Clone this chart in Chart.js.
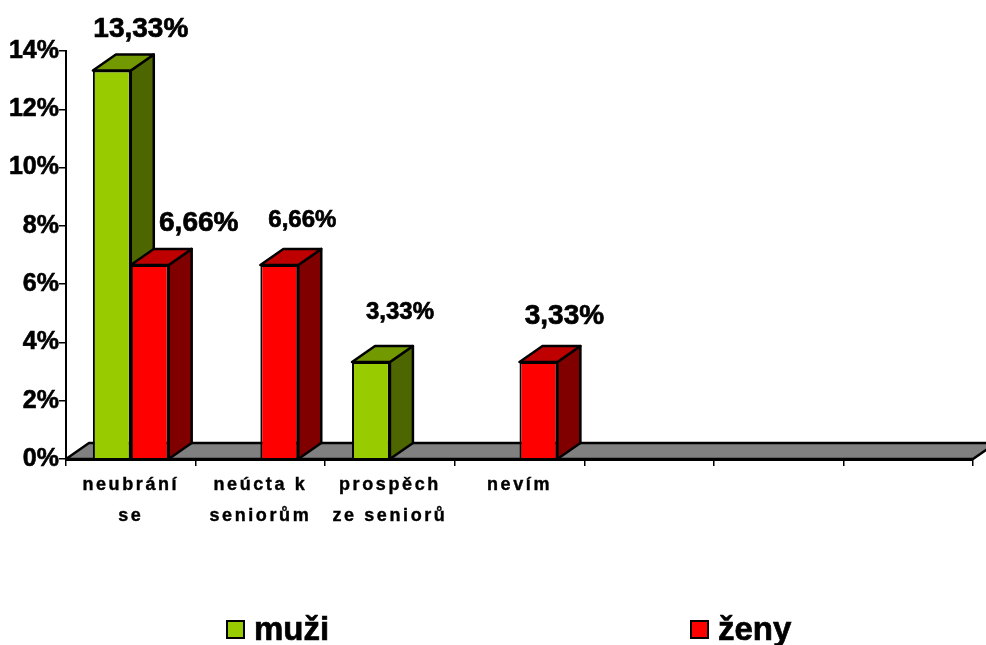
<!DOCTYPE html>
<html>
<head>
<meta charset="utf-8">
<script src="https://cdn.jsdelivr.net/npm/chart.js@4/dist/chart.umd.min.js"></script>
<style>
    html, body { margin: 0; padding: 0; background: #fff; overflow: hidden; }
    canvas { display: block; }
</style>
</head>
<body>
<canvas id="chart" width="986" height="645"></canvas>
<script>
const categories = [["neubrání", "se"], ["neúcta k", "seniorům"], ["prospěch", "ze seniorů"], ["nevím"], "", "", ""];
const muzi = [13.33, null, 3.33, null, null, null, null];
const zeny = [6.66, 6.66, null, 3.33, null, null, null];
const muziLabels = ["13,33%", null, "3,33%", null, null, null, null];
const zenyLabels = ["6,66%", "6,66%", null, "3,33%", null, null, null];

// offset from the bar's top centre, font size
const muziLabelStyle = [[29, -41, 28], null, [29, -50, 24]];
const zenyLabelStyle = [[49, -42, 28], [23, -45, 24], null, [26, -46, 28]];

const FONT = '"Liberation Sans", Arial, sans-serif';
const DEPTH_X = 23;
const DEPTH_Y = 16;

function poly(ctx, pts, fill) {
    ctx.beginPath();
    pts.forEach(([x, y], i) => i ? ctx.lineTo(x, y) : ctx.moveTo(x, y));
    ctx.closePath();
    ctx.fillStyle = fill;
    ctx.fill();
    ctx.stroke();
}

// source chart has heavier text than plain bold
function heavyText(ctx, text, x, y) {
    ctx.strokeStyle = "#000";
    ctx.lineWidth = 0.7;
    ctx.fillStyle = "#000";
    ctx.fillText(text, x, y);
    ctx.strokeText(text, x, y);
}

const box3d = {
    id: "box3d",
    beforeDraw(chart) {
        // wider letter spacing only for the category labels
        const xScale = chart.scales.x;
        if (!xScale._spaced) {
            const drawLabels = xScale.drawLabels;
            xScale.drawLabels = function (area) {
                const ctx = this.ctx;
                ctx.save();
                ctx.letterSpacing = "2.6px";
                drawLabels.call(this, area);
                ctx.restore();
            };
            xScale._spaced = true;
        }
    },
    beforeDatasetsDraw(chart) {
        const { ctx, chartArea: a } = chart;
        ctx.save();
        ctx.strokeStyle = "#000";
        ctx.lineWidth = 2.5;
        ctx.lineJoin = "round";
        poly(ctx, [[a.left, a.bottom], [a.left + DEPTH_X, a.bottom - DEPTH_Y],
            [a.right + DEPTH_X, a.bottom - DEPTH_Y], [a.right, a.bottom]], "#808080");

        chart.data.datasets.forEach((ds, i) => {
            chart.getDatasetMeta(i).data.forEach((bar, j) => {
                if (ds.data[j] === null) return;
                const l = bar.x - bar.width / 2, r = bar.x + bar.width / 2;
                poly(ctx, [[r, bar.y], [r + DEPTH_X, bar.y - DEPTH_Y],
                    [r + DEPTH_X, a.bottom - DEPTH_Y], [r, a.bottom]], ds.sideColor);
                poly(ctx, [[l, bar.y], [l + DEPTH_X, bar.y - DEPTH_Y],
                    [r + DEPTH_X, bar.y - DEPTH_Y], [r, bar.y]], ds.topColor);
            });
        });
        ctx.restore();
    },
    afterDraw(chart) {
        const { ctx } = chart;
        ctx.save();
        ctx.textAlign = "center";
        ctx.textBaseline = "middle";
        chart.data.datasets.forEach((ds, i) => {
            chart.getDatasetMeta(i).data.forEach((bar, j) => {
                if (!ds.valueLabels[j]) return;
                const [dx, dy, size] = ds.labelStyle[j];
                ctx.font = "bold " + size + "px " + FONT;
                heavyText(ctx, ds.valueLabels[j], bar.x + dx, bar.y + dy);
            });
        });

        // legend items sit far apart, more than the built-in legend can do
        ctx.textAlign = "left";
        ctx.font = "bold 33px " + FONT;
        chart.data.datasets.forEach((ds) => {
            ctx.fillStyle = ds.backgroundColor;
            ctx.strokeStyle = "#000";
            ctx.lineWidth = 2;
            ctx.fillRect(ds.legendX, 621, 17, 17);
            ctx.strokeRect(ds.legendX, 621, 17, 17);
            heavyText(ctx, ds.label, ds.legendX + 27, 631);
        });
        ctx.restore();
    }
};

new Chart(document.getElementById("chart").getContext("2d"), {
    type: "bar",
    plugins: [box3d],
    data: {
        labels: categories,
        datasets: [
            {
                label: "muži",
                data: muzi,
                valueLabels: muziLabels,
                labelStyle: muziLabelStyle,
                backgroundColor: "#99CC00",
                topColor: "#739900",
                sideColor: "#4D6600",
                legendX: 227,
                borderColor: "#000",
                borderWidth: 2
            },
            {
                label: "ženy",
                data: zeny,
                valueLabels: zenyLabels,
                labelStyle: zenyLabelStyle,
                backgroundColor: "#FF0000",
                topColor: "#BF0000",
                sideColor: "#800000",
                legendX: 691,
                borderColor: "#000",
                borderWidth: 2
            }
        ]
    },
    options: {
        responsive: false,
        animation: false,
        events: [],
        layout: { padding: { top: 51, right: 13, bottom: 86, left: 0 } },
        plugins: {
            legend: { display: false },
            title: { display: false },
            tooltip: { enabled: false }
        },
        datasets: { bar: { categoryPercentage: 0.585, barPercentage: 1 } },
        scales: {
            x: {
                afterFit(scale) { scale.height = 100; },
                border: { color: "#000", width: 3, z: 1 },
                grid: { drawOnChartArea: false, color: "#000", lineWidth: 1.5, tickLength: 7 },
                ticks: {
                    color: "#000",
                    autoSkip: false,
                    maxRotation: 0,
                    padding: 4,
                    textStrokeColor: "#000",
                    textStrokeWidth: 0.4,
                    font: { family: FONT, size: 18, weight: "bold", lineHeight: 1.72 }
                }
            },
            y: {
                min: 0,
                max: 14,
                afterFit(scale) { scale.width = 66; },
                border: { color: "#000", width: 2 },
                grid: { drawOnChartArea: false, color: "#000", lineWidth: 1.5, tickLength: 7 },
                ticks: {
                    stepSize: 2,
                    color: "#000",
                    padding: 0,
                    textStrokeColor: "#000",
                    textStrokeWidth: 0.6,
                    callback: (v) => v + "%",
                    font: { family: FONT, size: 25, weight: "bold" }
                }
            }
        }
    }
});
</script>
</body>
</html>
